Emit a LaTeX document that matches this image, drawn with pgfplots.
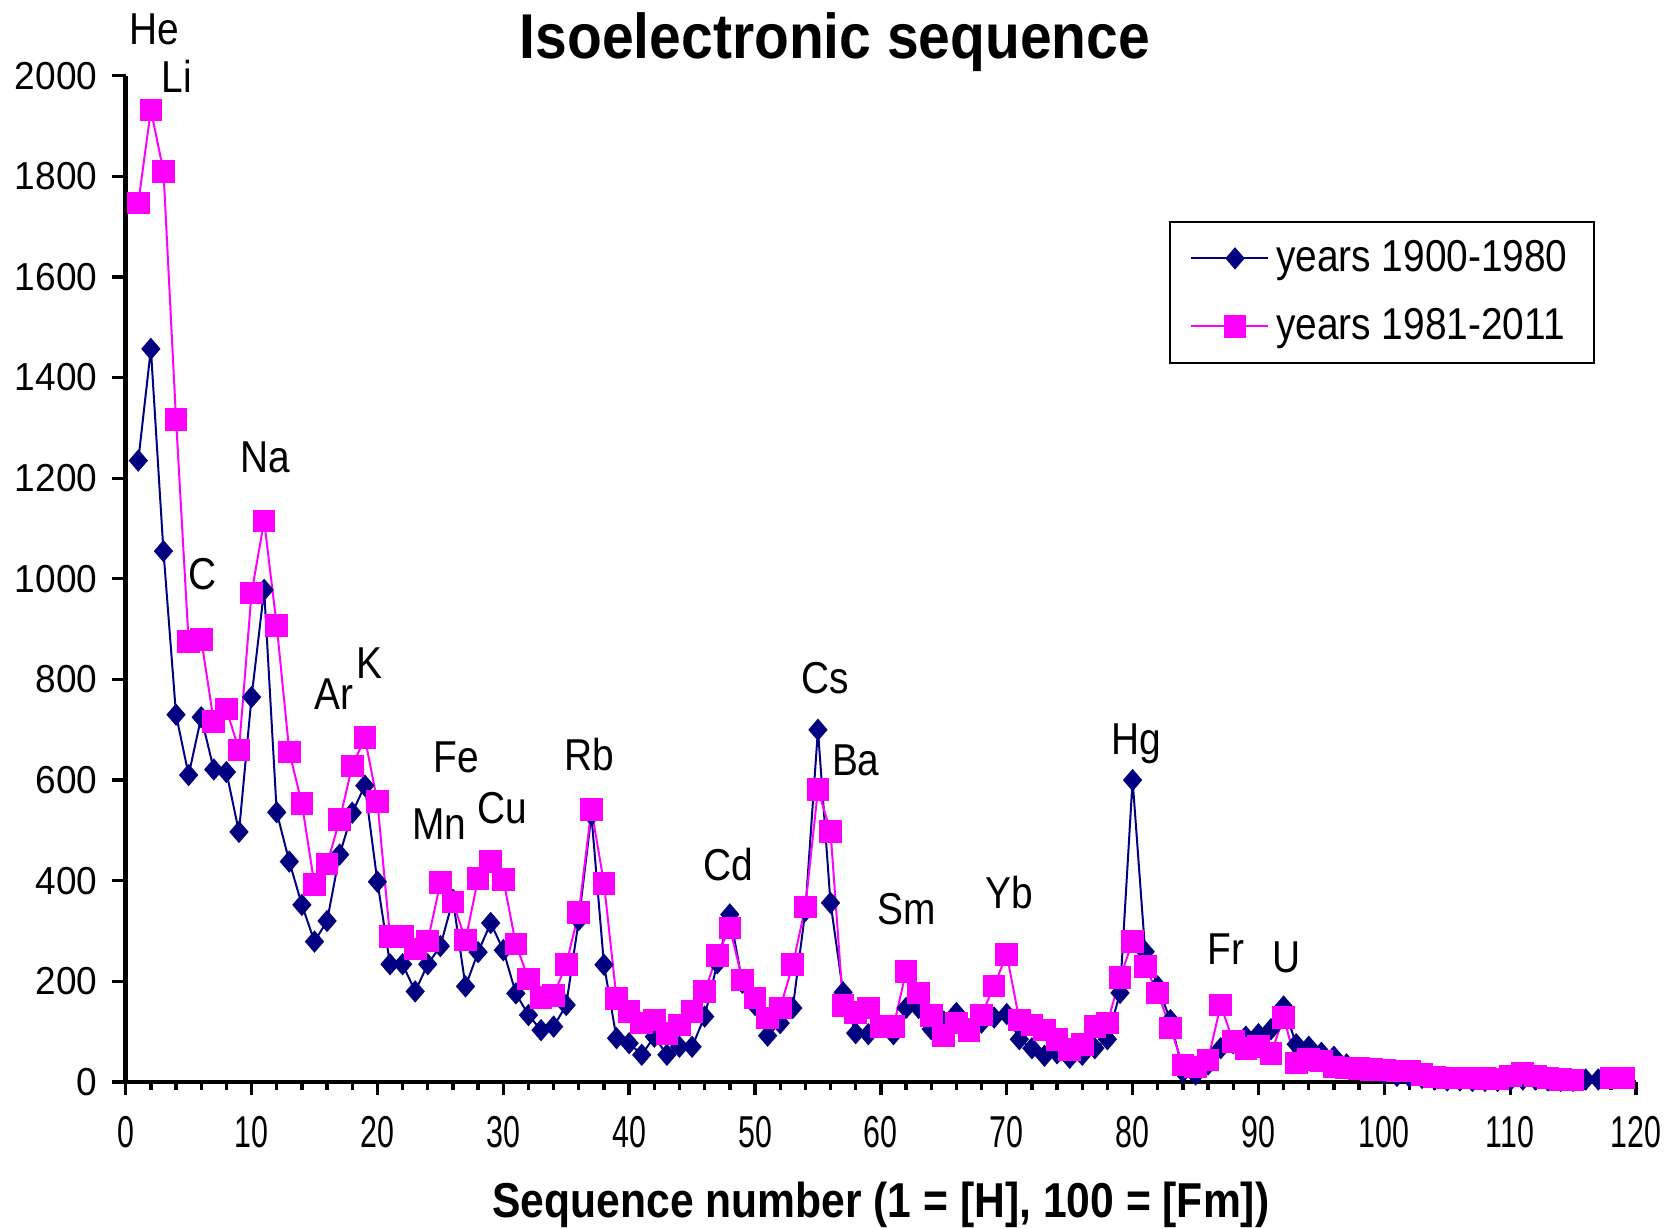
\documentclass[border=0pt]{standalone}
\usepackage{fontspec}
\setmainfont{Liberation Sans}
\newfontfamily\lab[FakeStretch=0.87]{Liberation Sans}
\newfontfamily\xtk[FakeStretch=0.68]{Liberation Sans}
\newfontfamily\ytk[FakeStretch=0.95]{Liberation Sans}
\newfontfamily\ttl[FakeStretch=0.9]{Liberation Sans}
\usepackage{pgfplots}
\pgfplotsset{compat=1.18}
\definecolor{navyb}{RGB}{0,0,128}
\definecolor{pinkm}{RGB}{255,0,255}
\begin{document}
\begin{tikzpicture}
\begin{axis}[
  at={(37.71pt,44.1pt)}, anchor=south west,
  scale only axis, width=453.1pt, height=301.9pt,
  xmin=0, xmax=120, ymin=0, ymax=2000,
  clip=false,
  axis lines=left,
  axis line style={-, line width=1.4pt},
  xtick={0,10,...,120}, minor x tick num=4,
  ytick={0,200,...,2000},
  tick align=outside,
  major tick length=4pt, minor tick length=2.4pt,
  every tick/.style={black, line width=1pt},
  /pgf/number format/assume math mode=true,
  /pgf/number format/1000 sep={},
  scaled ticks=false,
  xticklabel style={font=\xtk\fontsize{13.4}{14}\selectfont, yshift=-2.8pt},
  yticklabel style={font=\ytk\fontsize{11.7}{13}\selectfont, xshift=-1pt},
  xlabel={\lab\bfseries Sequence number (1 = [H], 100 = [Fm])},
  xlabel style={font=\fontsize{14.7}{16}\selectfont, yshift=-3.2pt},
  legend style={at={(0.6908,0.8556)}, anchor=north west, draw=black, line width=0.6pt,
    font=\lab\fontsize{13.4}{15}\selectfont, inner xsep=6pt, inner ysep=3.5pt, row sep=5.5pt},
  legend cell align=left,
  legend image code/.code={\path (-3.2pt,0pt) -- (0pt,0pt); \draw[mark repeat=2,mark phase=2,#1] plot coordinates {(0pt,0pt)(10pt,0pt)(20pt,0pt)};},
]
\addplot[navyb, line width=0.6pt, mark=diamond*, mark size=2.9pt, mark options={xscale=1.15, solid, fill=navyb}] table {
1 1235
2 1457
3 1055
4 730
5 610
6 725
7 621
8 616
9 497
10 765
11 978
12 536
13 438
14 352
15 279
16 320
17 452
18 535
19 589
20 398
21 234
22 234
23 180
24 234
25 270
26 362
27 190
28 258
29 316
30 262
31 176
32 133
33 103
34 110
35 153
36 322
37 531
38 233
39 87
40 77
41 54
42 90
43 54
44 70
45 70
46 130
47 236
48 333
49 197
50 153
51 92
52 117
53 147
54 340
55 700
56 356
57 178
58 97
59 95
60 110
61 95
62 147
63 147
64 105
65 120
66 137
67 105
68 118
69 128
70 135
71 85
72 67
73 52
74 57
75 48
76 54
77 67
78 85
79 177
80 600
81 259
82 190
83 123
84 20
85 15
86 35
87 67
88 77
89 90
90 95
91 105
92 150
93 75
94 70
95 58
96 50
97 35
98 25
99 20
100 15
101 12
102 10
103 8
104 5
105 3
106 3
107 2
108 2
109 2
110 3
111 5
112 5
113 3
114 2
115 2
116 5
117 5
};
\addlegendentry{years 1900-1980}
\addplot[pinkm, line width=0.6pt, mark=square*, mark size=3.1pt, mark options={solid, fill=pinkm}] table {
1 1747
2 1932
3 1810
4 1317
5 875
6 880
7 716
8 741
9 660
10 972
11 1115
12 907
13 656
14 553
15 392
16 433
17 521
18 628
19 684
20 557
21 289
22 289
23 264
24 280
25 396
26 358
27 282
28 404
29 438
30 403
31 274
32 205
33 168
34 172
35 234
36 337
37 542
38 395
39 166
40 140
41 117
42 123
43 97
44 113
45 140
46 180
47 252
48 306
49 203
50 167
51 127
52 147
53 233
54 348
55 581
56 498
57 152
58 138
59 147
60 110
61 110
62 219
63 177
64 132
65 93
66 117
67 102
68 133
69 191
70 254
71 123
72 113
73 103
74 84
75 64
76 74
77 110
78 117
79 207
80 279
81 229
82 177
83 107
84 34
85 30
86 44
87 153
88 80
89 67
90 70
91 57
92 128
93 38
94 45
95 42
96 30
97 28
98 27
99 25
100 24
101 22
102 22
103 15
104 10
105 8
106 8
107 8
108 7
109 6
110 12
111 18
112 12
113 8
114 5
115 4
118 8
119 8
};
\addlegendentry{years 1981-2011}
\begin{scope}[every node/.style={anchor=base, font=\lab\fontsize{13.4}{14}\selectfont, inner sep=0pt}]
\node at (axis cs:2.29,2062) {He};
\node at (axis cs:4.07,1966) {Li};
\node at (axis cs:6.10,979) {C};
\node at (axis cs:11.10,1212) {Na};
\node at (axis cs:16.52,740) {Ar};
\node at (axis cs:19.39,801) {K};
\node at (axis cs:26.25,615) {Fe};
\node at (axis cs:24.9,481) {Mn};
\node at (axis cs:29.9,513) {Cu};
\node at (axis cs:36.83,619) {Rb};
\node at (axis cs:47.85,401) {Cd};
\node at (axis cs:55.55,772) {Cs};
\node at (axis cs:58.01,609) {Ba};
\node at (axis cs:62.07,312) {Sm};
\node at (axis cs:70.2,344) {Yb};
\node at (axis cs:80.27,651) {Hg};
\node at (axis cs:87.39,233) {Fr};
\node at (axis cs:92.21,218) {U};
\end{scope}
\end{axis}
\node[anchor=base, font=\ttl\bfseries\fontsize{19}{20}\selectfont, inner sep=0pt] at (250.5pt,351pt) {Isoelectronic sequence};
\pgfresetboundingbox
\path[use as bounding box] (0,0) rectangle (501.3pt,368.7pt);
\end{tikzpicture}
\end{document}
